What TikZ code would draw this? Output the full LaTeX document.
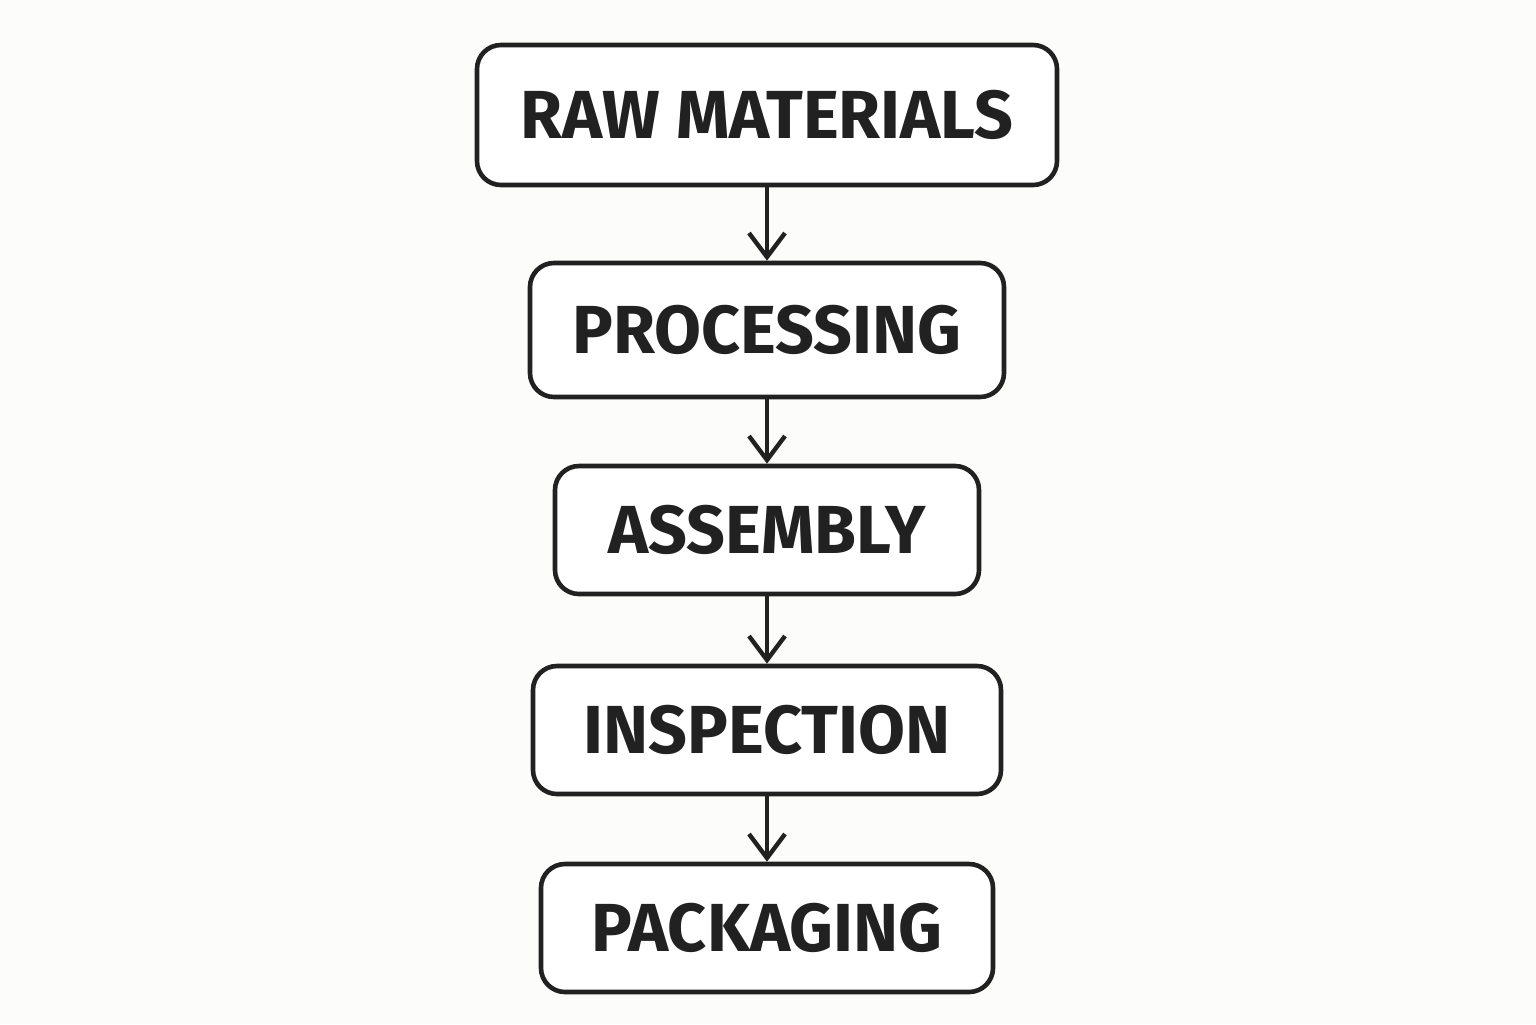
\documentclass[tikz,border=0pt]{standalone}
\usepackage{fontspec}
\setmainfont{Fira Sans}
\usetikzlibrary{arrows.meta}
\tikzset{>={Straight Barb[length=12pt,width=18pt,line width=2.2pt]}}
\tikzset{stage/.style={draw=black!87,line width=2.3pt,rounded corners=12pt,fill=white,text=black!87,font=\bfseries\fontsize{34}{40}\selectfont}}
\definecolor{bgpaper}{HTML}{FCFCFA}

\begin{document}
\begin{tikzpicture}[x=0.5pt,y=-0.5pt]
      \fill[bgpaper] (0,0) rectangle (1536,1024);
      \useasboundingbox (0,0) rectangle (1536,1024);

      \node[stage,minimum width=290pt,minimum height=70pt] (raw) at (767,115) {RAW MATERIALS};
      \node[stage,minimum width=237pt,minimum height=67pt] (proc) at (767,330) {PROCESSING};
      \node[stage,minimum width=212pt,minimum height=64pt] (asm) at (767,530) {ASSEMBLY};
      \node[stage,minimum width=234pt,minimum height=64pt] (insp) at (767,730) {INSPECTION};
      \node[stage,minimum width=226pt,minimum height=64pt] (pack) at (767,928) {PACKAGING};

      \draw[->,line width=2.2pt,black!87] (raw) -- (proc);
      \draw[->,line width=2.2pt,black!87] (proc) -- (asm);
      \draw[->,line width=2.2pt,black!87] (asm) -- (insp);
      \draw[->,line width=2.2pt,black!87] (insp) -- (pack);
\end{tikzpicture}
\end{document}
